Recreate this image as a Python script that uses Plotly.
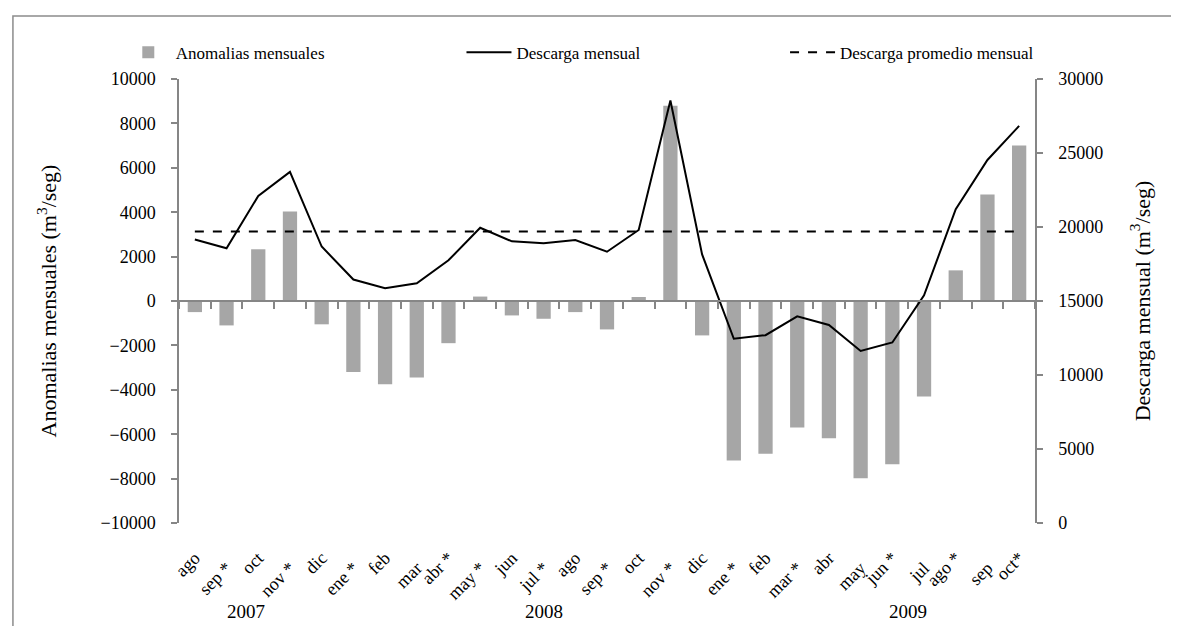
import plotly.graph_objects as go

# meses (ago 2007 - oct 2009), * = meses marcados en el original
meses = ["ago", "sep *", "oct", "nov *", "dic",
         "ene *", "feb", "mar", "abr *", "may *", "jun", "jul *",
         "ago", "sep *", "oct", "nov *", "dic",
         "ene *", "feb", "mar *", "abr", "may", "jun *", "jul",
         "ago *", "sep", "oct*"]
anios = ["2007", "2008", "2009"]
anio_pos = [1.6, 11.0, 22.5]

anomalias = [-500, -1100, 2330, 4030, -1050,
             -3200, -3750, -3450, -1900, 200, -650, -800,
             -500, -1280, 180, 8800, -1550,
             -7180, -6880, -5700, -6180, -7980, -7350, -4300,
             1380, 4800, 7000]
descarga = [19150, 18560, 22100, 23720, 18680,
            16450, 15860, 16200, 17750, 19950, 19030, 18900,
            19120, 18330, 19800, 28550, 18150,
            12450, 12690, 13960, 13380, 11620, 12200, 15380,
            21200, 24530, 26830]
promedio = [19700] * len(meses)

x = list(range(len(meses)))
FONT = "Liberation Serif"
GRIS = "#868686"

fig = go.Figure()

fig.add_trace(go.Bar(x=x, y=anomalias, name="Anomalias mensuales",
                     marker=dict(color="#a6a6a6", line=dict(width=0)),
                     width=0.45, xaxis="x", yaxis="y", legend="legend"))
fig.add_trace(go.Scatter(x=x, y=descarga, name="Descarga mensual", mode="lines",
                         line=dict(color="black", width=2),
                         xaxis="x2", yaxis="y2", legend="legend2"))
fig.add_trace(go.Scatter(x=x, y=promedio, name="Descarga promedio mensual", mode="lines",
                         line=dict(color="black", width=2, dash="dash"),
                         xaxis="x3", yaxis="y2", legend="legend3"))

rango_x = [-0.5, len(meses) - 0.5]

# una leyenda por serie, en fila sobre el grafico
ley = dict(orientation="h", xanchor="left", y=1.059, yanchor="middle",
           itemwidth=45, font=dict(size=17), bgcolor="rgba(0,0,0,0)")

fig.update_layout(
    width=1179, height=626,
    margin=dict(l=171, r=152, t=71, b=111, autoexpand=False),
    paper_bgcolor="white", plot_bgcolor="white",
    font=dict(family=FONT, size=18, color="black"),
    showlegend=True,
    legend=dict(ley, x=-0.068),
    legend2=dict(ley, x=0.33),
    legend3=dict(ley, x=0.708),
    # eje de categorias sobre el cero (solo marcas)
    xaxis=dict(range=rango_x, anchor="free", position=0.5,
               showline=True, linecolor=GRIS, linewidth=1.5,
               tickmode="array", tickvals=[i - 0.5 for i in range(len(meses) + 1)],
               ticks="outside", ticklen=7, tickcolor=GRIS, tickwidth=1.5,
               showticklabels=False, showgrid=False, zeroline=False),
    # etiquetas de meses alternadas
    xaxis2=dict(range=rango_x, overlaying="x", anchor="free", position=0,
                tickmode="array", tickvals=x[0::2], ticktext=meses[0::2],
                tickangle=-45, ticks="", showline=False, showgrid=False,
                zeroline=False, ticklabelstandoff=20, tickfont=dict(size=18)),
    xaxis3=dict(range=rango_x, overlaying="x", anchor="free", position=0,
                tickmode="array", tickvals=x[1::2], ticktext=meses[1::2],
                tickangle=-45, ticks="", showline=False, showgrid=False,
                zeroline=False, ticklabelstandoff=30, tickfont=dict(size=18)),
    yaxis=dict(range=[-10000, 10000], dtick=2000, tickformat="d",
               showline=True, linecolor=GRIS, linewidth=1.5,
               ticks="outside", ticklen=6, tickcolor=GRIS, tickwidth=1.5,
               ticklabelstandoff=12, showgrid=False, zeroline=False,
               title=dict(text="Anomalias mensuales (m<sup>3</sup>/seg)",
                          font=dict(size=22), standoff=38)),
    yaxis2=dict(range=[0, 30000], dtick=5000, tickformat="d", overlaying="y", side="right",
                showline=True, linecolor=GRIS, linewidth=1.5,
                ticks="outside", ticklen=6, tickcolor=GRIS, tickwidth=1.5,
                ticklabelstandoff=12, showgrid=False, zeroline=False,
                title=dict(text="Descarga mensual (m<sup>3</sup>/seg)",
                           font=dict(size=22), standoff=32)),
)

for anio, pos in zip(anios, anio_pos):
    fig.add_annotation(x=pos, xref="x", y=-0.2, yref="paper", text=anio,
                       showarrow=False, font=dict(size=19), yanchor="middle")

# marco del grafico
fig.add_shape(type="rect", xref="paper", yref="paper",
              x0=-0.194, x1=1.25, y0=-0.4, y1=1.142,
              line=dict(color="#8c8c8c", width=1.5), layer="below")

fig.write_html("out.html")
